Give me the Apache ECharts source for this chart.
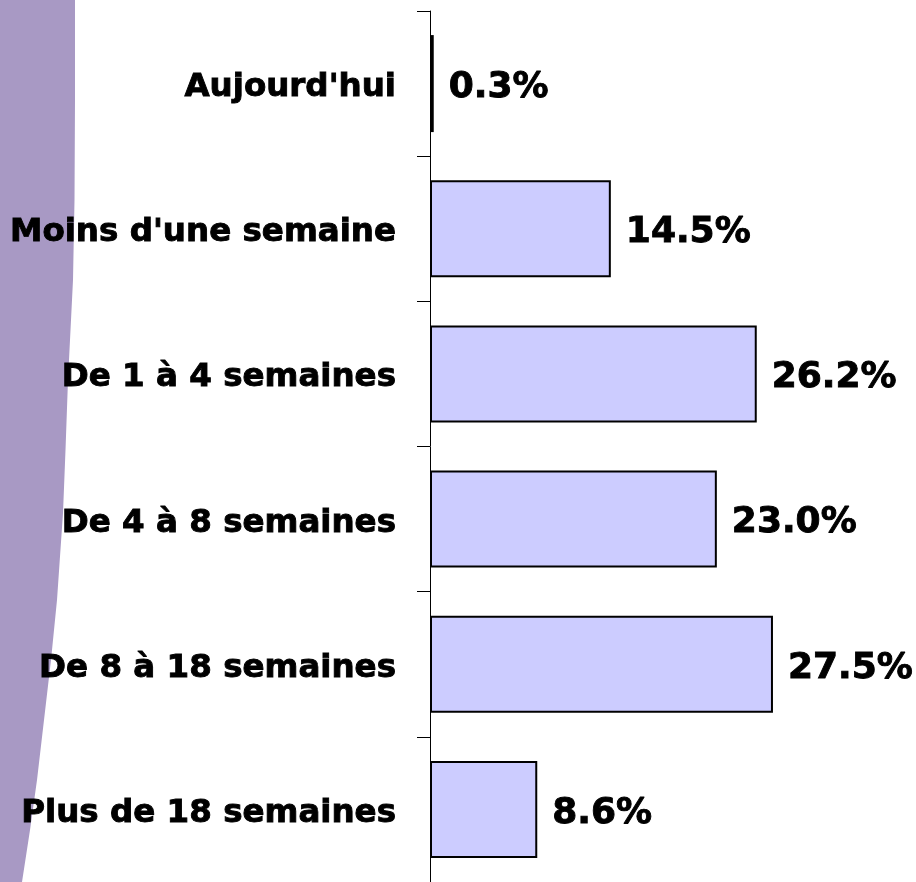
<!DOCTYPE html>
<html>
<head>
<meta charset="utf-8">
<style>
  html, body { margin: 0; padding: 0; background: #ffffff; }
  #chart { width: 916px; height: 882px; }
</style>
<script src="https://cdn.jsdelivr.net/npm/echarts@6/dist/echarts.min.js"></script>
</head>
<body>
<div id="chart"></div>
<script>
const categories = [
  "Aujourd'hui",
  "Moins d'une semaine",
  "De 1 à 4 semaines",
  "De 4 à 8 semaines",
  "De 8 à 18 semaines",
  "Plus de 18 semaines"
];
const values = [0.3, 14.5, 26.2, 23.0, 27.5, 8.6];

const chart = echarts.init(document.getElementById('chart'), null, { renderer: 'canvas' });

const labelFont = {
  color: '#000000',
  fontFamily: 'DejaVu Sans',
  fontWeight: 'bold',
  fontSize: 32.5,
  textBorderColor: '#000000',
  textBorderWidth: 0.9
};

const option = {
  backgroundColor: '#ffffff',
  animation: false,
  graphic: [{
    type: 'polygon',
    z: -10,
    shape: {
      points: [
        [0, 0], [75, 0], [75, 100], [74.5, 200], [73, 280], [70, 340], [68, 380],
        [65.5, 450], [63, 513], [57, 600], [51, 660], [44, 720], [37, 780],
        [30, 830], [22, 882], [0, 882]
      ]
    },
    style: { fill: '#A899C4' }
  }],
  grid: { left: 430, right: 49.5, top: 11, bottom: -2, containLabel: false },
  xAxis: {
    type: 'value',
    min: 0,
    max: 35,
    show: false
  },
  yAxis: {
    type: 'category',
    inverse: true,
    data: categories,
    axisLine: { show: true, lineStyle: { color: '#000000', width: 1 } },
    axisTick: { show: true, length: 13, lineStyle: { color: '#000000', width: 1 } },
    axisLabel: Object.assign({
      margin: 34,
      formatter: function (v) { return '{a|' + v + '}'; },
      rich: {
        a: Object.assign({ padding: [8, 0, 0, 0] }, labelFont)
      }
    }, labelFont),
    splitLine: { show: false }
  },
  series: [{
    type: 'bar',
    data: values,
    barWidth: 97,
    itemStyle: {
      color: '#CCCCFF',
      borderColor: '#000000',
      borderWidth: 2
    },
    label: {
      show: true,
      position: 'right',
      distance: 15,
      offset: [0, 4],
      color: '#000000',
      fontFamily: 'DejaVu Sans',
      fontWeight: 'bold',
      fontSize: 36,
      textBorderColor: '#000000',
      textBorderWidth: 0.9,
      formatter: function (p) { return p.value.toFixed(1) + '%'; }
    }
  }]
};

chart.setOption(option);
</script>
</body>
</html>
